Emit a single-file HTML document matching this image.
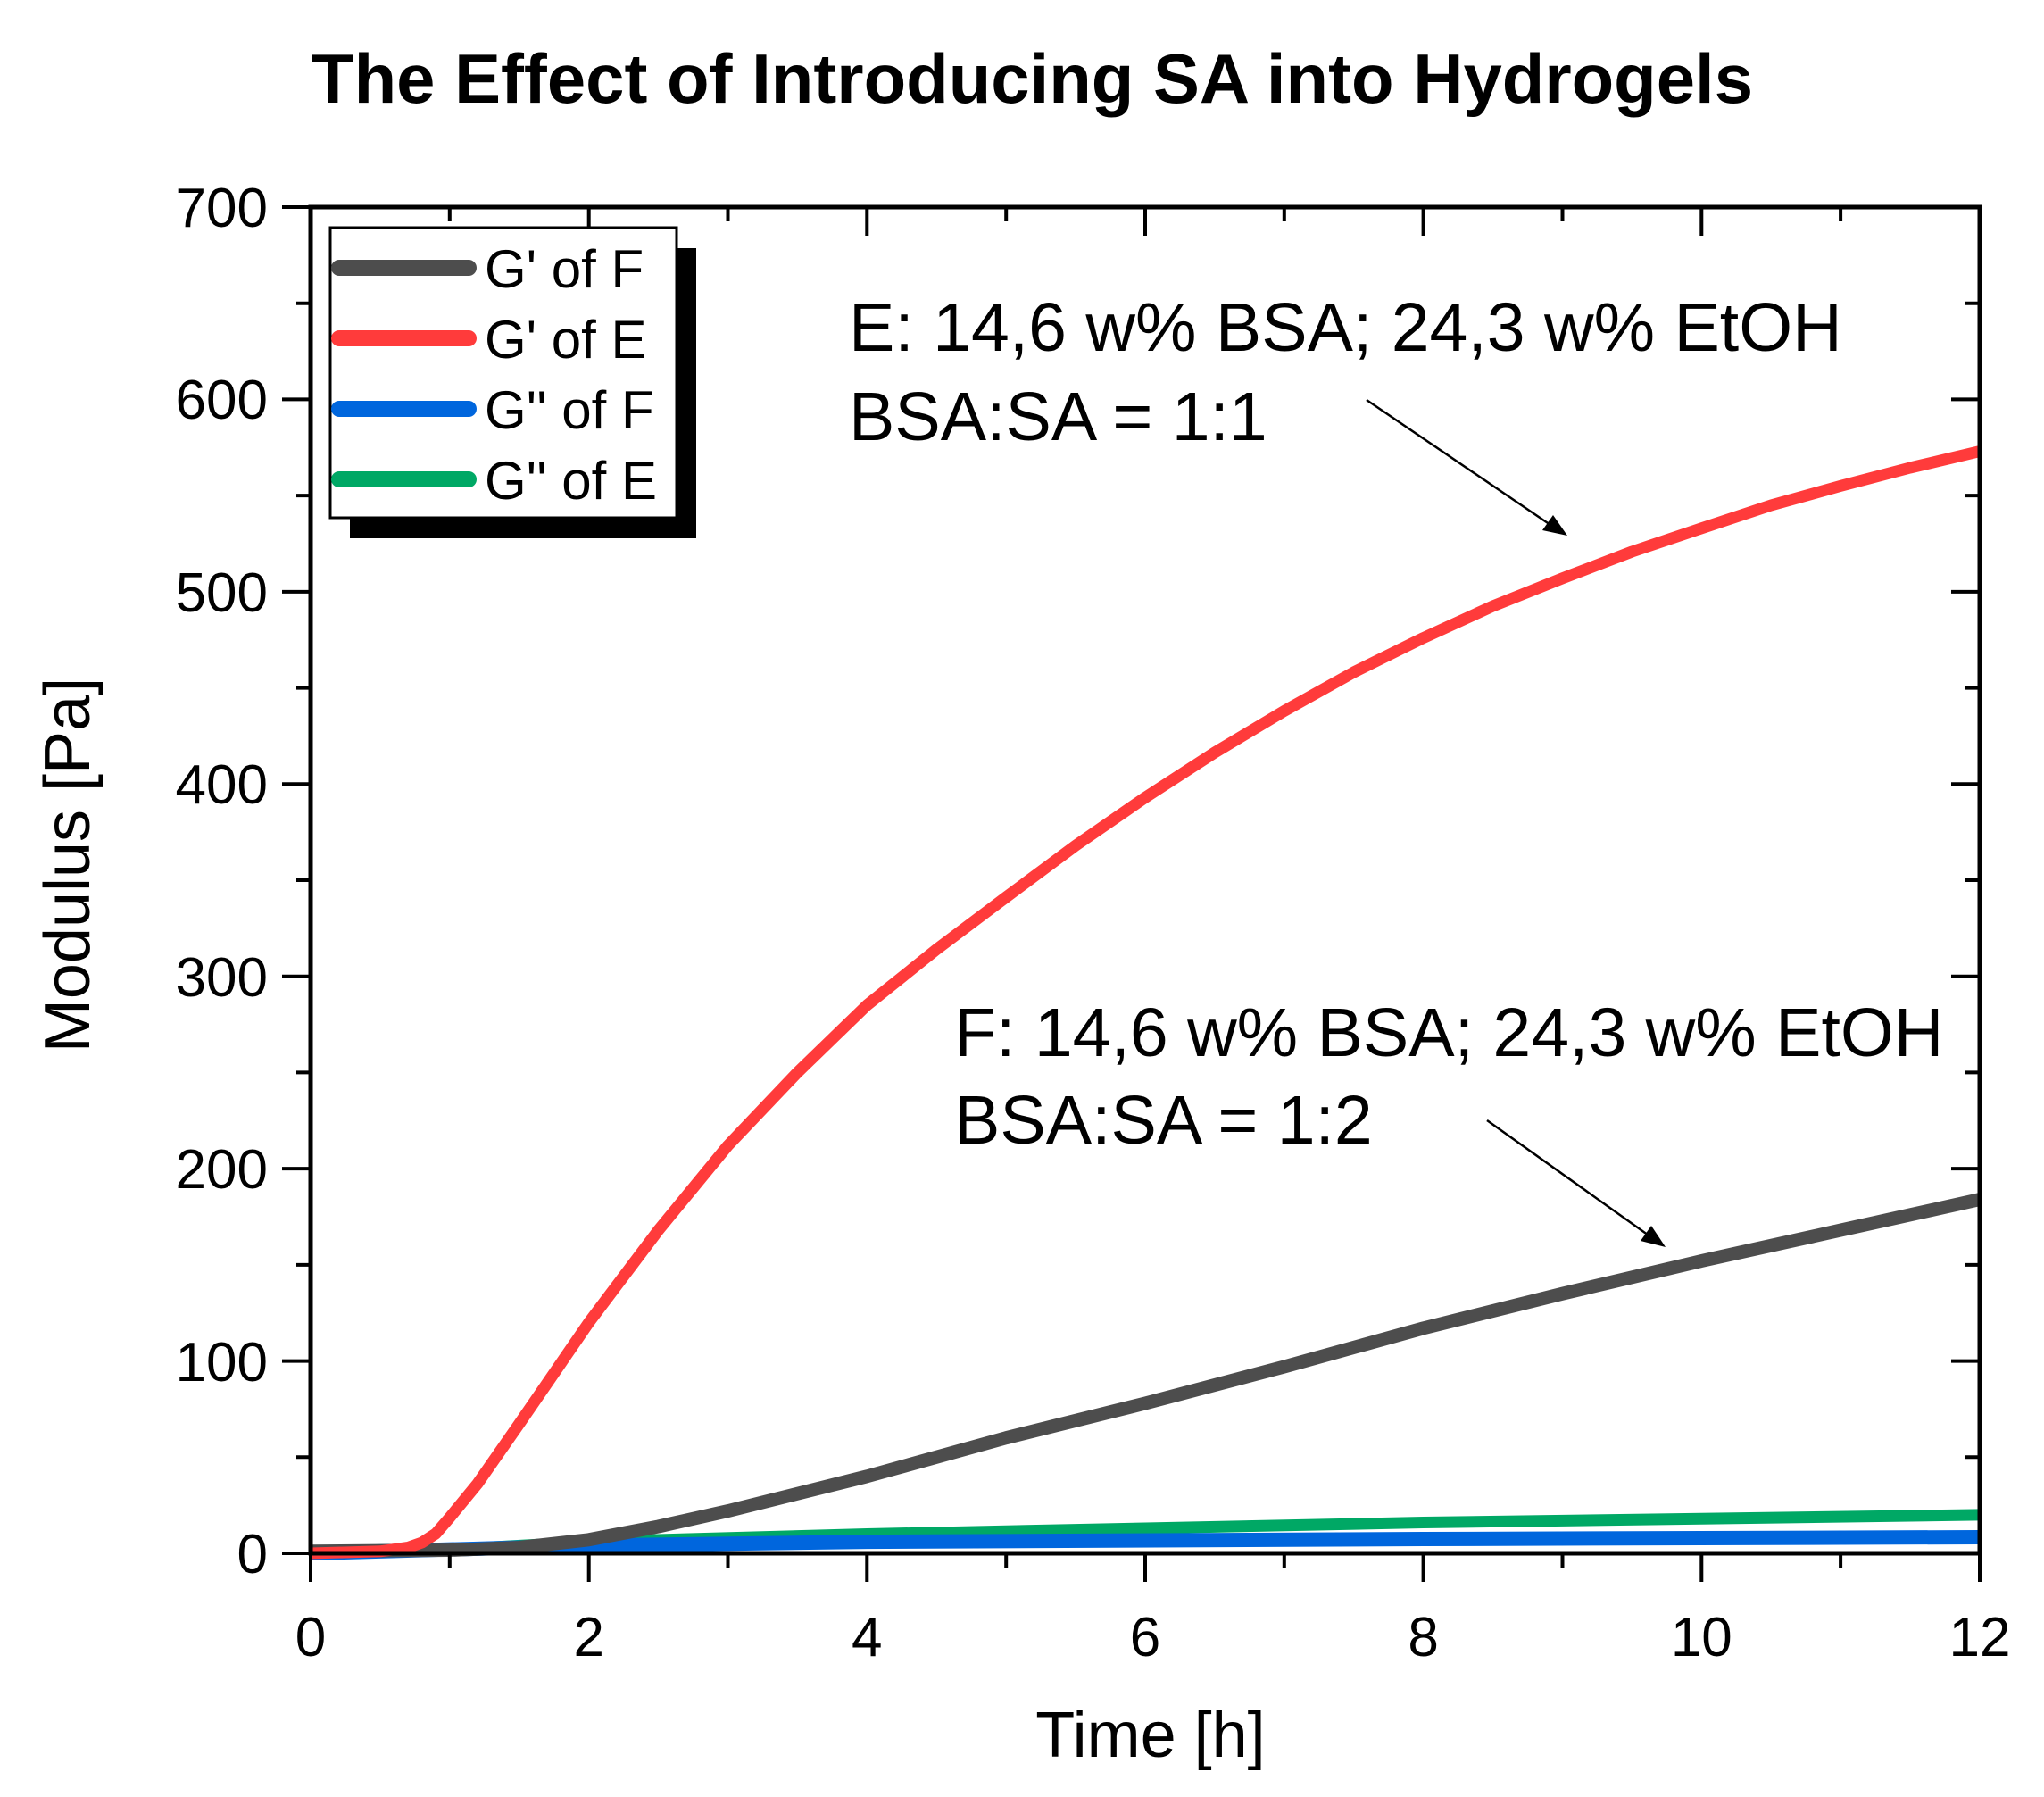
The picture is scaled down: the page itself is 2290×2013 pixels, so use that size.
<!DOCTYPE html>
<html><head><meta charset="utf-8"><style>html,body{margin:0;padding:0;background:#fff}svg{display:block}</style></head>
<body>
<svg width="2290" height="2013" xmlns="http://www.w3.org/2000/svg" font-family="Liberation Sans, Arial, sans-serif">
<rect width="2290" height="2013" fill="#fff"/>
<text x="349" y="115" font-size="78" font-weight="bold" textLength="1615" lengthAdjust="spacingAndGlyphs">The Effect of Introducing SA into Hydrogels</text>
<g fill="none" stroke-linejoin="round" stroke-linecap="butt">
<polyline stroke="#00a865" stroke-width="13" points="348,1740 503.8,1735.7 659.7,1727.1 971.3,1718.5 1283,1712 1594.6,1705.5 1906.3,1701.2 2218,1696.9"/>
<polyline stroke="#0066dd" stroke-width="16" points="348,1740 659.7,1731.4 971.3,1727.1 1594.6,1724 2218,1722"/>
<polyline stroke="#4d4d4d" stroke-width="15" points="348,1737.8 503.8,1736.5 581.7,1733.5 659.7,1724.8 737.6,1710 815.5,1692.6 971.3,1653.8 1127.2,1610.7 1283,1572 1438.8,1531 1594.6,1487.9 1750.5,1449.2 1906.3,1412.5 2062.1,1378.1 2218,1343.6"/>
<polyline stroke="#ff3b3b" stroke-width="13" points="348,1740 425.9,1737.8 457.1,1733.5 472.7,1728 488.2,1718 503.8,1700 535,1662 581.7,1595 659.7,1481.5 737.6,1378.1 815.5,1283.3 893.4,1201.4 971.3,1126 1049.2,1063.6 1127.2,1005 1205.1,947.2 1283,893.4 1360.9,843 1438.8,796.4 1516.7,753 1594.6,714.6 1672.5,679 1750.5,647.8 1828.4,618 1906.3,591.8 1984.2,566 2062.1,544.4 2140,524 2218,505.6"/>
</g>
<rect x="348" y="232" width="1870" height="1508" fill="none" stroke="#000" stroke-width="5"/>
<g stroke="#000" stroke-width="4">
<path d="M348,1740v32M503.8,1740v16M659.7,1740v32M815.5,1740v16M971.3,1740v32M1127.2,1740v16M1283,1740v32M1438.8,1740v16M1594.6,1740v32M1750.5,1740v16M1906.3,1740v32M2062.1,1740v16M2218,1740v32"/>
<path d="M503.8,232v16M659.7,232v32M815.5,232v16M971.3,232v32M1127.2,232v16M1283,232v32M1438.8,232v16M1594.6,232v32M1750.5,232v16M1906.3,232v32M2062.1,232v16"/>
<path d="M348,1740h-32M348,1632.3h-16M348,1524.6h-32M348,1416.9h-16M348,1309.1h-32M348,1201.4h-16M348,1093.7h-32M348,986h-16M348,878.3h-32M348,770.6h-16M348,662.9h-32M348,555.1h-16M348,447.4h-32M348,339.7h-16M348,232h-32"/>
<path d="M2218,1632.3h-16M2218,1524.6h-32M2218,1416.9h-16M2218,1309.1h-32M2218,1201.4h-16M2218,1093.7h-32M2218,986h-16M2218,878.3h-32M2218,770.6h-16M2218,662.9h-32M2218,555.1h-16M2218,447.4h-32M2218,339.7h-16"/>
</g>
<g font-size="62" fill="#000" text-anchor="middle">
<text x="348" y="1855">0</text><text x="659.7" y="1855">2</text><text x="971.3" y="1855">4</text><text x="1283" y="1855">6</text><text x="1594.6" y="1855">8</text><text x="1906.3" y="1855">10</text><text x="2218" y="1855">12</text>
</g>
<g font-size="62" fill="#000" text-anchor="end">
<text x="300" y="1762">0</text><text x="300" y="1547">100</text><text x="300" y="1331">200</text><text x="300" y="1116">300</text><text x="300" y="900">400</text><text x="300" y="685">500</text><text x="300" y="469">600</text><text x="300" y="254">700</text>
</g>
<text x="1289" y="1968" font-size="72" text-anchor="middle">Time [h]</text>
<text transform="translate(100,969) rotate(-90)" font-size="72" text-anchor="middle">Modulus [Pa]</text>
<rect x="392" y="278" width="388" height="325" fill="#000"/>
<rect x="370" y="255" width="388" height="325" fill="#fff" stroke="#000" stroke-width="3"/>
<g stroke-width="18" stroke-linecap="round">
<line x1="380" y1="300" x2="525" y2="300" stroke="#4d4d4d"/>
<line x1="380" y1="379" x2="525" y2="379" stroke="#ff3b3b"/>
<line x1="380" y1="458" x2="525" y2="458" stroke="#0066dd"/>
<line x1="380" y1="537" x2="525" y2="537" stroke="#00a865"/>
</g>
<g font-size="60" fill="#000">
<text x="543" y="322">G' of F</text>
<text x="543" y="401">G' of E</text>
<text x="543" y="480">G'' of F</text>
<text x="543" y="559">G'' of E</text>
</g>
<g font-size="77" fill="#000">
<text x="951" y="393">E: 14,6 w% BSA; 24,3 w% EtOH</text>
<text x="951" y="493">BSA:SA = 1:1</text>
<text x="1069" y="1183">F: 14,6 w% BSA; 24,3 w% EtOH</text>
<text x="1069" y="1281">BSA:SA = 1:2</text>
</g>
<g stroke="#000" stroke-width="2.5">
<line x1="1531" y1="448" x2="1740" y2="590"/>
<line x1="1666" y1="1255" x2="1850" y2="1386"/>
</g>
<polygon points="1756,600 1728,594 1740,577" fill="#000"/>
<polygon points="1866,1397 1838,1390 1850,1373" fill="#000"/>
</svg>
</body></html>
